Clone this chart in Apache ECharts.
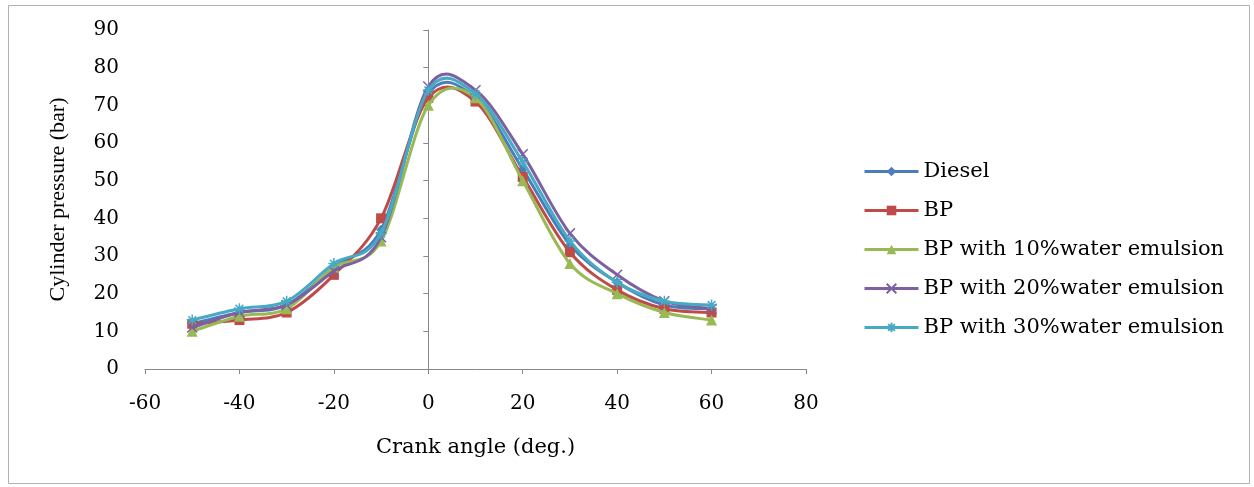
<!DOCTYPE html>
<html><head><meta charset="utf-8">
<script src="https://cdn.jsdelivr.net/npm/echarts@6/dist/echarts.min.js"></script>
<style>html,body{margin:0;padding:0;background:#fff}#c{width:1254px;height:487px}</style>
</head><body><div id="c"></div>
<script>
const crankAngles = [-50,-40,-30,-20,-10,0,10,20,30,40,50,60];
const diesel = [12,15,17,27,37,73,72,53,33,23,17,16];
const bp     = [12,13,15,25,40,72,71,51,31,21,16,15];
const bp10   = [10,14,16,27,34,70,72,50,28,20,15,13];
const bp20   = [11,15,17,26,35,75,74,57,36,25,18,16];
const bp30   = [13,16,18,28,36,74,73,55,34,23,18,17];
const seriesNames = ['Diesel','BP','BP with 10%water emulsion','BP with 20%water emulsion','BP with 30%water emulsion'];
const yTicks = [0,10,20,30,40,50,60,70,80,90];
const xTicks = [-60,-40,-20,0,20,40,60,80];

const colors = ['#4A7EBB','#BE4B48','#98B954','#7D60A0','#46AAC5'];
const symbols = ['diamond','rect','triangle','path://M0,0 L10,10 M10,0 L0,10','path://M5,0 L5,10 M0,5 L10,5 M1.5,1.5 L8.5,8.5 M8.5,1.5 L1.5,8.5'];
const sizes = [10,10,11,10,11];
const dataSets = [diesel,bp,bp10,bp20,bp30];
const font = 'DejaVu Serif, serif';
const font2 = 'Liberation Serif, serif';

// Excel-like smoothed curve (Catmull-Rom -> Bezier), built from pixel coords given by the axes
function smoothPath(pts){
  let d = 'M' + pts[0][0] + ' ' + pts[0][1];
  for (let i=0;i<pts.length-1;i++){
    const p0 = pts[i-1] || pts[i], p1 = pts[i], p2 = pts[i+1], p3 = pts[i+2] || pts[i+1];
    const c1x = p1[0] + (p2[0]-p0[0])/6, c1y = p1[1] + (p2[1]-p0[1])/6;
    const c2x = p2[0] - (p3[0]-p1[0])/6, c2y = p2[1] - (p3[1]-p1[1])/6;
    d += ' C' + c1x + ' ' + c1y + ' ' + c2x + ' ' + c2y + ' ' + p2[0] + ' ' + p2[1];
  }
  return d;
}

const series = [];
dataSets.forEach((d,i)=>{
  series.push({
    name: seriesNames[i] + ' curve', type:'custom', silent:true, z: 2+2*i,
    yAxisIndex:0, data:[[crankAngles[0], d[0]]],
    renderItem:(params, api)=>{
      const pts = crankAngles.map((x,j)=>api.coord([x, d[j]]));
      return {type:'path', shape:{pathData: smoothPath(pts)},
        style:{stroke:colors[i], lineWidth:3, fill:'none'}};
    }
  });
  series.push({
    name: seriesNames[i], type:'line', z: 3+2*i, yAxisIndex:0,
    data: crankAngles.map((x,j)=>[x,d[j]]),
    symbol: symbols[i], symbolSize: sizes[i], showSymbol:true,
    lineStyle:{color:colors[i], width:3, opacity:0},
    itemStyle:{color:colors[i], borderColor:colors[i], borderWidth: i>=3?1.5:0}
  });
});

const chart = echarts.init(document.getElementById('c'), null, {renderer:'canvas'});
const option = {
  animation:false,
  backgroundColor:'#fff',
  graphic:[{type:'rect', shape:{x:8.5,y:5.5,width:1241,height:478}, style:{fill:'none', stroke:'#b0b0b0', lineWidth:1}, silent:true}],
  grid:{left:145, right:448, top:30, bottom:118},
  legend:{
    orient:'vertical', left:858, top:156, itemGap:18, itemWidth:54, itemHeight:12,
    textStyle:{fontFamily:font, fontSize:21, color:'#000'},
    data: seriesNames.map((n,i)=>({name:n, lineStyle:{color:colors[i], width:3, opacity:1}}))
  },
  xAxis:{
    type:'value', min:-60, max:80, interval:20,
    name:'Crank angle (deg.)', nameLocation:'middle', nameGap:68,
    nameTextStyle:{fontFamily:font, fontSize:21, color:'#000'},
    axisLine:{onZero:false, lineStyle:{color:'#888', width:1}},
    axisTick:{show:true, length:5, lineStyle:{color:'#888'}},
    axisLabel:{fontFamily:font, fontSize:20, color:'#000', margin:25, formatter:v=>String(v)},
    splitLine:{show:false}
  },
  yAxis:[{
    type:'value', min:0, max:90, interval:10,
    name:'Cylinder pressure (bar)', nameLocation:'middle', nameGap:76, nameRotate:90,
    nameTextStyle:{fontFamily:font2, fontSize:22, color:'#000'},
    axisLine:{show:false}, axisTick:{show:false},
    axisLabel:{fontFamily:font, fontSize:20, color:'#000', margin:26},
    splitLine:{show:false}
  },{
    type:'value', min:0, max:90, interval:10, position:'left', offset:0,
    axisLine:{show:true, onZero:false, lineStyle:{color:'#888', width:1}},
    axisTick:{show:true, length:5, lineStyle:{color:'#888'}},
    axisLabel:{show:false}, splitLine:{show:false}
  }],
  series: series
};
chart.setOption(option);
// place the second y axis line at x = 0 of the value x-axis
const zeroPx = chart.convertToPixel({xAxisIndex:0}, 0);
const leftPx = chart.convertToPixel({xAxisIndex:0}, -60);
chart.setOption({yAxis:[{},{offset: -(zeroPx-leftPx)}]});
</script></body></html>
